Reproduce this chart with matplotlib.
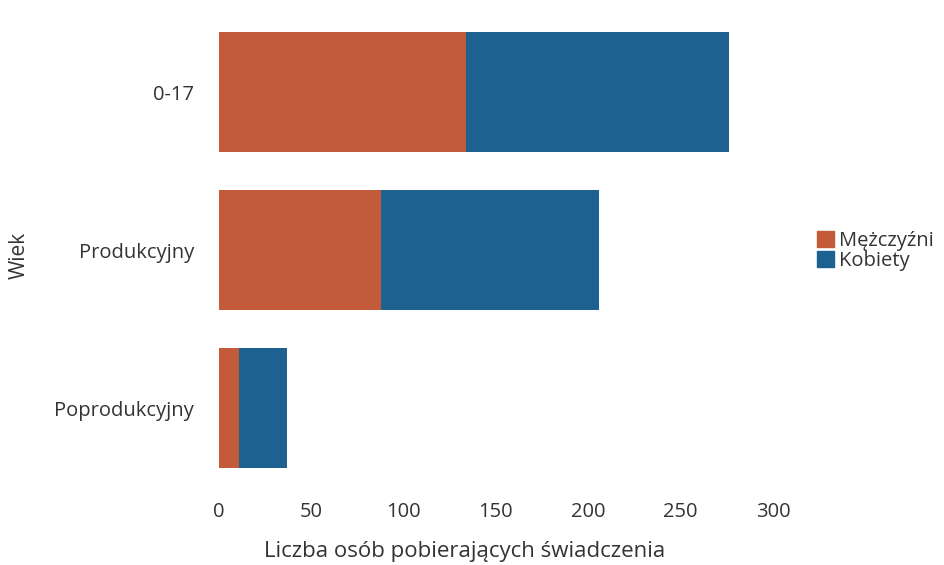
import matplotlib
matplotlib.use("Agg")
import matplotlib.pyplot as plt
from matplotlib.patches import Patch

plt.rcParams['font.family'] = ['Open Sans', 'DejaVu Sans']

categories = ["0-17", "Produkcyjny", "Poprodukcyjny"]
men = [134, 88, 11]
women = [142, 118, 26]
series_names = ["Mężczyźni", "Kobiety"]
xticks = [0, 50, 100, 150, 200, 250, 300]

c_men = "#C35A3A"
c_women = "#1C6190"
txt = "#333333"

fig = plt.figure(figsize=(9.44, 5.65), dpi=100)
ax = fig.add_axes([216/944, 1-487/565, (773-216)/944, 474/565])

ypos = list(range(len(categories)))
ax.barh(ypos, men, height=0.76, color=c_men, label=series_names[0])
ax.barh(ypos, women, left=men, height=0.76, color=c_women, label=series_names[1])

ax.set_ylim(2.5, -0.5)
ax.set_xlim(-1.5, 300)
ax.set_yticks(ypos)
ax.set_yticklabels(categories, fontsize=14.5, color=txt)
ax.set_xticks(xticks)
ax.set_xticklabels([str(t) for t in xticks], fontsize=14.5, color=txt)
ax.tick_params(axis='both', length=0)
ax.tick_params(axis='y', pad=16)
ax.tick_params(axis='x', pad=11)
for s in ax.spines.values():
    s.set_visible(False)

fig.text(465/944, 1-551/565, "Liczba osób pobierających świadczenia",
         ha='center', va='center', fontsize=16, color=txt)
fig.text(19/944, 1-255/565, "Wiek", rotation=90, ha='center', va='center',
         fontsize=15, color=txt)

handles = [Patch(color=c_men), Patch(color=c_women)]
fig.legend(handles, series_names, loc='center left', bbox_to_anchor=(807/944, 1-251/565),
           frameon=False, fontsize=14.5, handlelength=0.85, handleheight=0.85,
           handletextpad=0.25, labelspacing=0.0, borderpad=0, labelcolor=txt)

fig.savefig("out.png", dpi=100)
